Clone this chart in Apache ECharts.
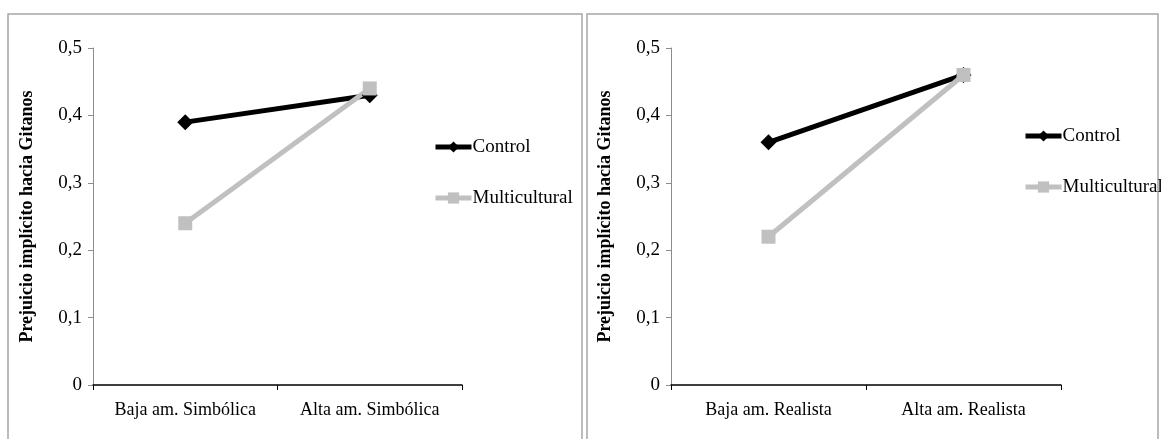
<!DOCTYPE html>
<html>
<head>
<meta charset="utf-8">
<script src="https://cdn.jsdelivr.net/npm/echarts@6/dist/echarts.min.js"></script>
<style>
  html, body { margin: 0; padding: 0; background: #fff; }
  #chart { width: 1161px; height: 439px; }
</style>
</head>
<body>
<div id="chart"></div>
<script>
// categorias de cada panel
const catSimbolica = ["Baja am. Simbólica", "Alta am. Simbólica"];
const catRealista = ["Baja am. Realista", "Alta am. Realista"];

// valores
const controlSimbolica = [0.39, 0.43];
const multiSimbolica = [0.24, 0.44];
const controlRealista = [0.36, 0.46];
const multiRealista = [0.22, 0.46];

const yTicks = ["0", "0,1", "0,2", "0,3", "0,4", "0,5"];
const yName = "Prejuicio implícito hacia Gitanos";

const font = "'Liberation Serif', 'Times New Roman', serif";
const gray = "#c0c0c0";

const chart = echarts.init(document.getElementById("chart"));

const makeX = (idx, cats) => ({
  type: "category",
  gridIndex: idx,
  data: cats,
  boundaryGap: true,
  axisLine: { lineStyle: { color: "#000", width: 1.5 } },
  axisTick: { show: true, length: 5, lineStyle: { color: "#000" } },
  axisLabel: { fontFamily: font, fontSize: 18, color: "#000", margin: 16 },
  splitLine: { show: false }
});

const makeY = (idx) => ({
  type: "value",
  gridIndex: idx,
  min: 0,
  max: 0.5,
  interval: 0.1,
  name: yName,
  nameLocation: "middle",
  nameRotate: 90,
  nameGap: 57,
  nameTextStyle: { fontFamily: font, fontSize: 18, fontWeight: "bold", color: "#000" },
  axisLine: { show: true, lineStyle: { color: "#8c8c8c", width: 1 } },
  axisTick: { show: true, length: 5, lineStyle: { color: "#8c8c8c" } },
  axisLabel: {
    fontFamily: font, fontSize: 19, color: "#000", margin: 11,
    formatter: (v) => yTicks[Math.round(v * 10)]
  },
  splitLine: { show: false }
});

const makeSeries = (name, idx, data) => {
  const isControl = name === "Control";
  return {
    name: name,
    type: "line",
    xAxisIndex: idx,
    yAxisIndex: idx,
    data: data,
    symbol: isControl ? "diamond" : "rect",
    symbolSize: isControl ? 16 : 14,
    lineStyle: { color: isControl ? "#000" : gray, width: 5 },
    itemStyle: { color: isControl ? "#000" : gray },
    emphasis: { disabled: true },
    animation: false
  };
};

const legendStyle = {
  orient: "vertical",
  padding: 0,
  itemWidth: 36,
  itemHeight: 14,
  itemGap: 31,
  lineStyle: { width: 5 },
  textStyle: { fontFamily: font, fontSize: 19, lineHeight: 20, color: "#000", padding: [0, 0, 0, -4] },
  data: ["Control", "Multicultural"]
};

const option = {
  animation: false,
  graphic: [
    { type: "rect", shape: { x: 8, y: 14, width: 574, height: 440 }, style: { fill: "none", stroke: "#a6a6a6", lineWidth: 1.5 } },
    { type: "rect", shape: { x: 587, y: 14, width: 571, height: 440 }, style: { fill: "none", stroke: "#a6a6a6", lineWidth: 1.5 } }
  ],
  grid: [
    { left: 93, top: 48, width: 369, height: 337 },
    { left: 671, top: 48, width: 390, height: 337 }
  ],
  legend: [
    Object.assign({ left: 433, top: 137 }, legendStyle),
    Object.assign({ left: 1023, top: 126 }, legendStyle)
  ],
  xAxis: [makeX(0, catSimbolica), makeX(1, catRealista)],
  yAxis: [makeY(0), makeY(1)],
  series: [
    makeSeries("Control", 0, controlSimbolica),
    makeSeries("Multicultural", 0, multiSimbolica),
    makeSeries("Control", 1, controlRealista),
    makeSeries("Multicultural", 1, multiRealista)
  ]
};

chart.setOption(option);
</script>
</body>
</html>
